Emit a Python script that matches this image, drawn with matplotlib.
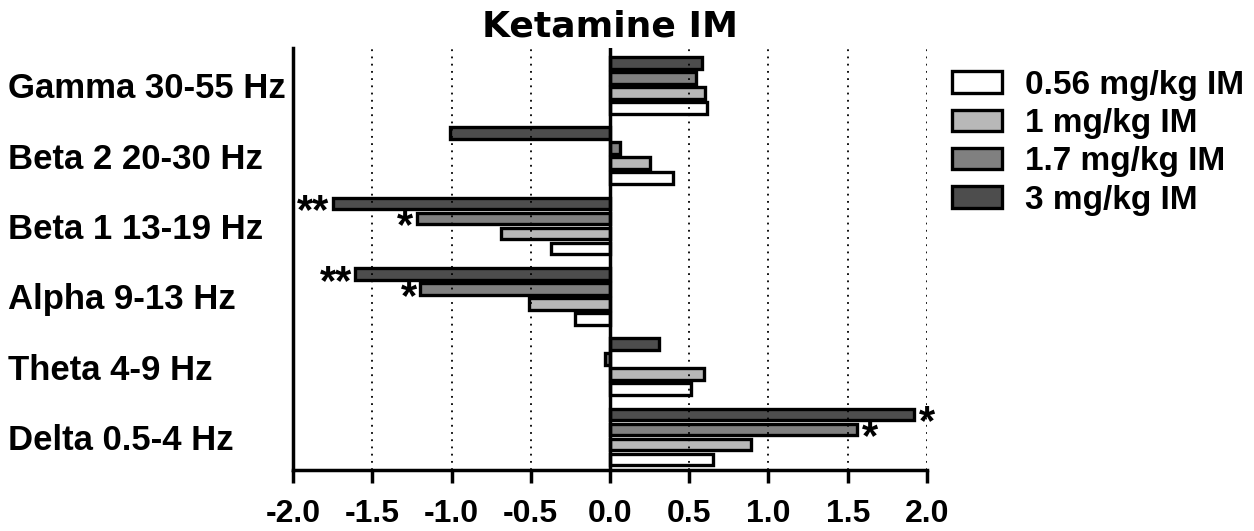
import numpy as np
import matplotlib.pyplot as plt
from matplotlib.patches import Patch

plt.rcParams['font.family'] = ['Liberation Sans', 'DejaVu Sans']
plt.rcParams['font.weight'] = 'bold'

# bandas de frequencia (de baixo para cima)
bands = ['Delta 0.5-4 Hz', 'Theta 4-9 Hz', 'Alpha 9-13 Hz',
         'Beta 1 13-19 Hz', 'Beta 2 20-30 Hz', 'Gamma 30-55 Hz']
doses = ['0.56 mg/kg IM', '1 mg/kg IM', '1.7 mg/kg IM', '3 mg/kg IM']
colors = ['#ffffff', '#b8b8b8', '#808080', '#4d4d4d']

dose_056 = [0.65, 0.51, -0.22, -0.37, 0.40, 0.61]
dose_1 = [0.89, 0.59, -0.51, -0.69, 0.25, 0.60]
dose_17 = [1.56, -0.03, -1.20, -1.22, 0.06, 0.54]
dose_3 = [1.92, 0.31, -1.61, -1.75, -1.01, 0.58]
values = [dose_056, dose_1, dose_17, dose_3]

# significancia: (banda, dose, texto)
stars = [(0, 3, '*'), (0, 2, '*'), (2, 3, '**'), (2, 2, '*'),
         (3, 3, '**'), (3, 2, '*')]

fig = plt.figure(figsize=(12.54, 5.31), dpi=100)
ax = fig.add_axes([0.2337, 0.1149, 0.5055, 0.7947])

y = np.arange(len(bands))
offsets = [-0.32, -0.107, 0.107, 0.32]
for vals, off, c in zip(values, offsets, colors):
    ax.barh(y + off, vals, height=0.165, color=c, edgecolor='black',
            linewidth=2.4, zorder=2)

for b, d, s in stars:
    v = values[d][b]
    if v > 0:
        ax.text(v + 0.03, y[b] + offsets[d] - 0.13, s, ha='left', va='center',
                fontsize=30, zorder=4)
    else:
        ax.text(v - 0.02, y[b] + offsets[d] - 0.13, s, ha='right', va='center',
                fontsize=30, zorder=4)

ax.set_xlim(-2.0, 2.0)
ax.set_ylim(-0.47, 5.53)
ax.set_xticks(np.arange(-2.0, 2.01, 0.5))
ax.set_xticklabels(['%.1f' % t for t in np.arange(-2.0, 2.01, 0.5)])
ax.set_yticks(y)
ax.set_yticklabels(bands)
for lab in ax.get_yticklabels():
    lab.set_horizontalalignment('left')

for t in np.arange(-1.5, 2.01, 0.5):
    if abs(t) > 1e-9:
        ax.axvline(t, color='black', linestyle=(0, (1, 3)), linewidth=1.3, zorder=3)
ax.axvline(0, color='black', linewidth=2.5, zorder=3)

ax.spines['top'].set_visible(False)
ax.spines['right'].set_visible(False)
ax.spines['left'].set_linewidth(2.5)
ax.spines['bottom'].set_linewidth(2.5)
ax.tick_params(axis='x', length=9, width=2.5, labelsize=23, pad=12)
ax.tick_params(axis='y', length=0, labelsize=25, pad=205)
ax.set_title('Ketamine IM', fontsize=26, fontweight='bold', pad=8,
             family='DejaVu Sans')

handles = [Patch(facecolor=c, edgecolor='black', linewidth=2.4) for c in colors]
fig.legend(handles, doses, loc='upper left', bbox_to_anchor=(0.735, 0.925),
           frameon=False, fontsize=24, handlelength=1.5, handleheight=0.6,
           labelspacing=0.22, handletextpad=0.7)

fig.savefig('out.png', dpi=100)
